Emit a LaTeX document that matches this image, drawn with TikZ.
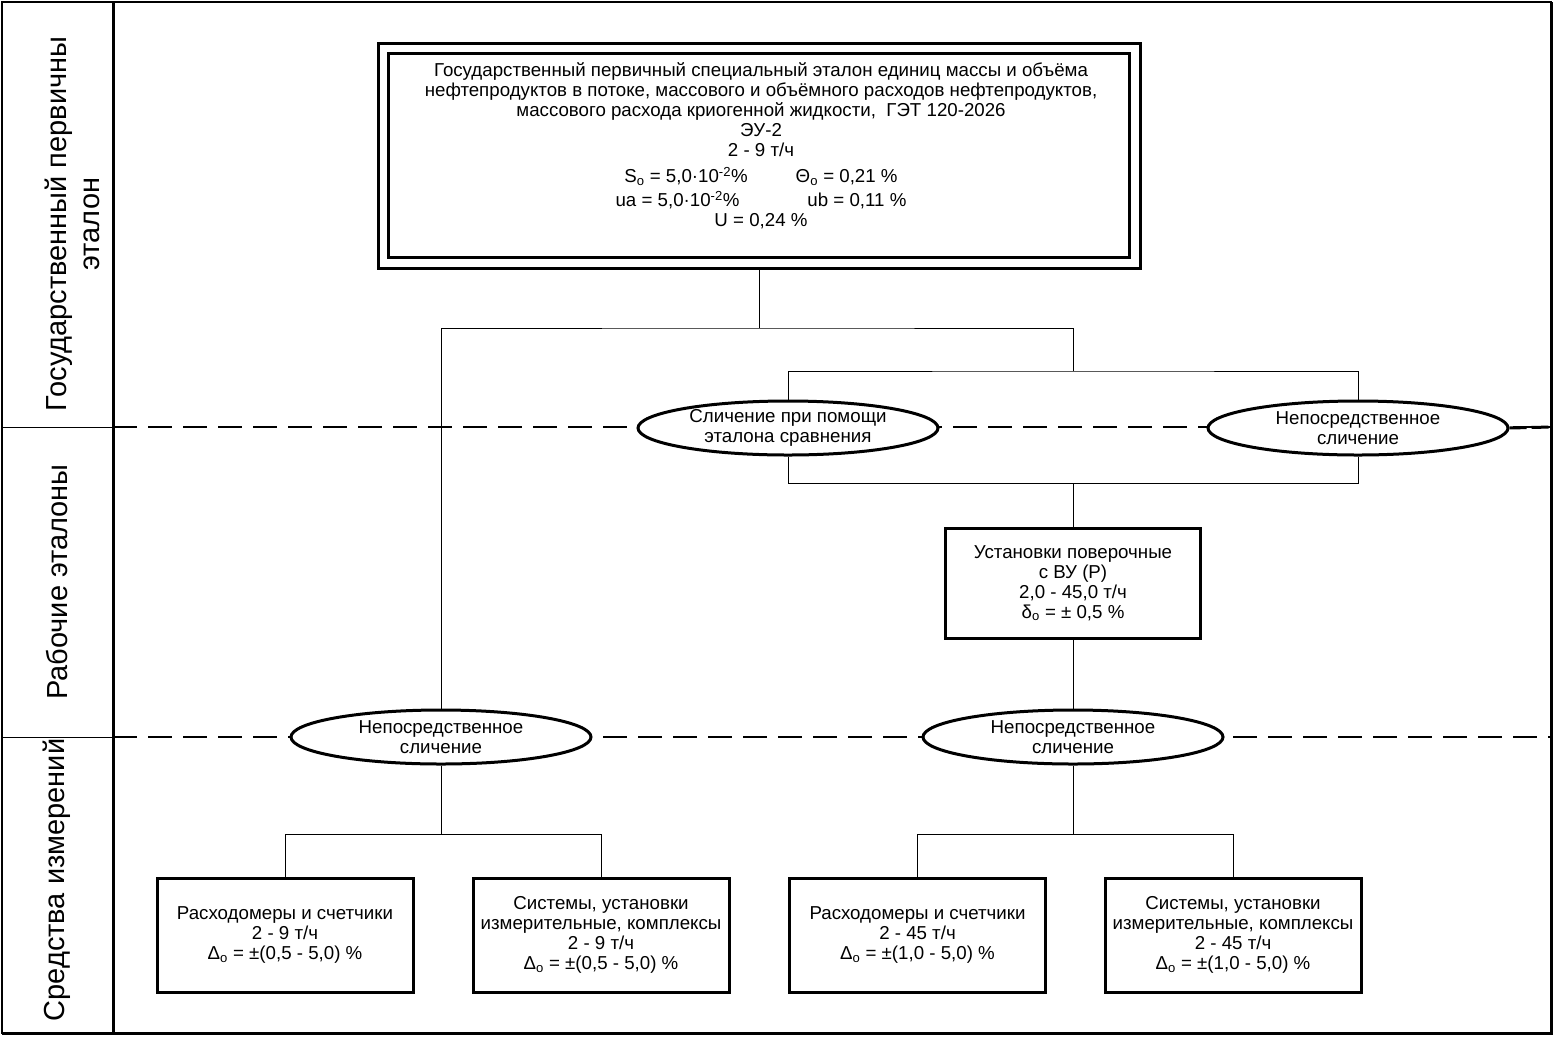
\documentclass[tikz,border=0pt]{standalone}
\usepackage{fontspec}
\setmainfont{Liberation Sans}
\usetikzlibrary{shapes.geometric}

\begin{document}
\begin{tikzpicture}[line cap=butt,line join=miter,x=1pt,y=-1pt,
  every node/.style={font=\fontsize{18.7}{20}\selectfont,align=center},
  link/.style={line width=1pt},
  level/.style={line width=1.4pt,dash pattern=on 24pt off 11pt},
  box/.style={draw,line width=3pt,fill=white,inner sep=0pt},
  oval/.style={ellipse,draw,line width=3pt,fill=white,inner sep=0pt,minimum width=300pt,minimum height=54pt},
  side/.style={rotate=90,font=\fontsize{29}{33}\selectfont}]
\useasboundingbox (0,0) rectangle (1555,1037);
\draw[line width=2pt] (2,2) rectangle (1551,1033);
\draw[line width=3pt] (1551,2) -- (1551,1033) -- (2,1033);
\draw[line width=3pt] (113,2) -- (113,1033);
\draw[link] (2,427) -- (113,427);
\draw[link] (2,737) -- (113,737);
\draw[level] (113,427) -- (1551,427);
\draw[level] (113,737) -- (1551,737);
\node[side] (lvl1) at (72,224) {Государственный первичны\\эталон};
\node[side] (lvl2) at (57,582) {Рабочие эталоны};
\node[side] (lvl3) at (57,880) {Средства измерений};
\node[box,minimum width=762pt,minimum height=225pt] (etalon) at (759,155.5) {};
\draw[line width=3pt] ([shift={(12,12)}]etalon.north west) rectangle ([shift={(-12,-12)}]etalon.south east);
\node (etalontxt) at (761,146) {Государственный первичный специальный эталон единиц массы и объёма\\
нефтепродуктов в потоке, массового и объёмного расходов нефтепродуктов,\\
массового расхода криогенной жидкости,\ \ ГЭТ 120-2026\\
ЭУ-2\\
2 - 9 т/ч\\[6pt]
S\textsubscript{o} = 5,0·10\textsuperscript{-2}\%\hspace{48pt}Θ\textsubscript{o} = 0,21 \%\\[4pt]
ua = 5,0·10\textsuperscript{-2}\%\hspace{68pt}ub = 0,11 \%\\
U = 0,24 \%};
\node[oval] (cmp) at (788,428) {Сличение при помощи\\эталона сравнения};
\node[oval] (dir1) at (1358,428) {Непосредственное\\сличение};
\draw[line width=3pt,dash pattern=on 17pt off 5pt] (dir1.east) -- (1551,427);
\node[oval] (dir2) at (441,737) {Непосредственное\\сличение};
\node[oval] (dir3) at (1073,737) {Непосредственное\\сличение};
\node[box,minimum width=255pt,minimum height=110pt] (vu) at (1073,583) {Установки поверочные\\с ВУ (Р)\\2,0 - 45,0 т/ч\\δ\textsubscript{o} = ± 0,5 \%};
\node[box,minimum width=256pt,minimum height=114pt] (meter1) at (285,935) {Расходомеры и счетчики\\2 - 9 т/ч\\Δ\textsubscript{o} = ±(0,5 - 5,0) \%};
\node[box,minimum width=256pt,minimum height=114pt] (sys1) at (601,935) {Системы, установки\\измерительные, комплексы\\2 - 9 т/ч\\Δ\textsubscript{o} = ±(0,5 - 5,0) \%};
\node[box,minimum width=256pt,minimum height=114pt] (meter2) at (917.5,935) {Расходомеры и счетчики\\2 - 45 т/ч\\Δ\textsubscript{o} = ±(1,0 - 5,0) \%};
\node[box,minimum width=256pt,minimum height=114pt] (sys2) at (1233,935) {Системы, установки\\измерительные, комплексы\\2 - 45 т/ч\\Δ\textsubscript{o} = ±(1,0 - 5,0) \%};
\coordinate (j1) at (759,328);
\coordinate (j2) at (1073,371);
\coordinate (j3) at (1073,483);
\coordinate (j4) at (441,834);
\coordinate (j5) at (1073,834);
\draw[link] (etalon.south) -- (j1);
\draw[link] (dir2.north) |- (j1) -| (j2);
\draw[link] (cmp.north) |- (j2) -| (dir1.north);
\draw[link] (cmp.south) |- (j3) -| (dir1.south);
\draw[link] (j3) -- (vu.north);
\draw[link] (vu.south) -- (dir3.north);
\draw[link] (dir2.south) -- (j4);
\draw[link] (meter1.north) |- (j4) -| (sys1.north);
\draw[link] (dir3.south) -- (j5);
\draw[link] (meter2.north) |- (j5) -| (sys2.north);
\end{tikzpicture}
\end{document}
